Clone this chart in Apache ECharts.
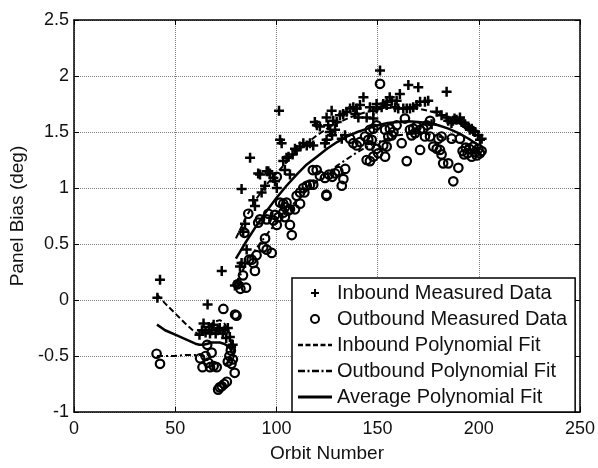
<!DOCTYPE html>
<html>
<head>
<meta charset="utf-8">
<script src="https://cdn.jsdelivr.net/npm/echarts@6/dist/echarts.min.js"></script>
<style>
html, body { margin: 0; padding: 0; background: #fff; }
#chart { width: 598px; height: 468px; }
</style>
</head>
<body>
<div id="chart"></div>
<script>
// tick values
var xTicks = [0, 50, 100, 150, 200, 250];
var yTicks = [-1, -0.5, 0, 0.5, 1, 1.5, 2, 2.5];

// measured data (orbit, bias deg)
var inboundData = [
  [41.2,0.02],[42.5,0.18],[62.0,-0.31],[63.2,-0.27],[64.0,-0.21],[65.0,-0.29],[66.0,-0.04],[66.6,-0.24],
  [67.2,-0.30],[68.0,-0.27],[69.0,-0.22],[70.0,-0.30],[71.0,-0.27],[72.0,-0.25],[73.0,0.26],[73.5,-0.30],
  [74.4,-0.27],[75.2,-0.34],[76.0,-0.25],[77.0,-0.33],[77.6,-0.42],[78.4,-0.40],
  [79.5,0.13],[81.2,0.15],[82.0,0.30],[82.8,0.33],[84.5,0.33],[82.8,0.99],[83.6,0.61],[84.5,0.68],
  [85.3,0.45],[87.0,1.27],[88.6,0.89],[89.4,0.84],[91.0,1.13],[91.9,1.12],[92.7,0.96],[94.4,1.02],
  [95.2,1.15],[96.0,1.15],[96.8,1.13],[98.5,1.09],[99.3,1.06],[100.2,1.00],[101.3,1.69],[101.8,1.43],
  [102.6,1.40],[103.4,1.24],[104.2,1.16],[105.0,1.27],[106.0,1.28],[106.7,1.12],[108.0,1.30],[109.2,1.35],
  [110.0,1.34],[111.7,1.37],[113.3,1.40],[115.0,1.38],[116.6,1.40],[118.2,1.38],[119.0,1.59],[120.0,1.56],
  [121.5,1.55],[124.0,1.40],[124.8,1.43],[124.8,1.63],[125.6,1.56],[126.5,1.50],[127.3,1.69],[127.5,1.47],
  [128.1,1.60],[129.0,1.52],[129.8,1.59],[131.4,1.65],[132.3,1.44],[133.0,1.66],[133.9,1.47],[134.7,1.68],
  [136.4,1.71],[138.0,1.72],[139.0,1.66],[139.7,1.71],[140.5,1.63],[141.3,1.74],[143.0,1.81],[144.6,1.63],
  [146.2,1.72],[147.9,1.62],[147.9,1.69],[149.5,1.71],[149.5,1.75],[151.2,2.05],[152.0,1.72],[152.8,1.75],
  [154.5,1.74],[154.5,1.77],[156.0,1.81],[157.0,1.78],[158.6,1.72],[159.4,1.78],[160.2,1.71],[161.0,1.84],
  [162.7,1.71],[164.4,1.71],[165.2,1.92],[166.0,1.71],[167.6,1.72],[169.3,1.74],[170.1,1.90],[171.0,1.77],
  [173.4,1.77],[175.0,1.78],[176.7,1.57],[179.2,1.68],[181.6,1.65],[184.1,1.86],[184.1,1.63],[184.9,1.60],
  [186.5,1.58],[187.2,1.60],[188.0,1.62],[189.0,1.61],[190.7,1.63],[191.5,1.59],[192.4,1.58],[193.2,1.57],
  [194.8,1.55],[195.6,1.52],[196.5,1.53],[197.3,1.51],[198.1,1.50],[199.8,1.47],[200.6,1.43],[201.4,1.44]
];
var outboundData = [
  [40.8,-0.48],[42.5,-0.57],[62.3,-0.52],[63.5,-0.60],[65.0,-0.50],[65.8,-0.40],[66.4,-0.56],[67.2,-0.60],
  [68.0,-0.47],[69.0,-0.59],[70.5,-0.60],[71.2,-0.80],[72.0,-0.78],[73.0,-0.77],[73.8,-0.08],[74.2,-0.75],
  [75.5,-0.73],[76.0,-0.55],[76.8,-0.50],[77.5,-0.45],[77.8,-0.57],[78.5,-0.53],[79.4,-0.65],[80.3,-0.14],
  [79.6,-0.13],
  [80.8,0.14],[82.2,0.10],[83.5,0.22],[85.0,0.11],[84.2,0.60],[86.1,0.77],[86.5,0.36],[87.8,0.36],
  [88.6,0.33],[89.4,0.26],[90.2,0.40],[91.0,0.69],[91.9,0.72],[93.5,0.47],[94.4,0.55],[95.2,0.45],
  [95.2,0.72],[96.0,0.77],[97.7,0.42],[98.5,0.71],[99.3,0.76],[100.2,0.67],[100.2,1.10],[101.0,0.74],
  [101.8,0.87],[103.4,0.78],[103.4,0.86],[104.2,0.83],[104.2,0.74],[105.0,0.87],[106.0,0.80],[106.7,0.67],
  [106.7,0.81],[107.6,0.58],[109.2,0.81],[110.0,0.93],[111.7,0.86],[111.7,0.96],[113.3,1.00],[113.8,0.96],
  [115.0,1.02],[116.6,1.03],[118.0,1.16],[118.2,1.03],[119.9,1.16],[121.5,1.11],[124.0,1.09],[124.7,0.94],
  [124.8,0.93],[126.0,1.12],[127.6,1.10],[129.0,1.13],[130.6,1.15],[132.3,1.02],[133.1,1.08],[134.0,1.17],
  [136.4,1.44],[138.0,1.40],[139.7,1.38],[141.3,1.41],[143.8,1.46],[144.6,1.25],[145.4,1.43],[146.2,1.38],
  [146.2,1.24],[146.2,1.52],[147.1,1.43],[147.9,1.53],[147.9,1.28],[149.5,1.56],[149.5,1.35],[150.3,1.31],
  [151.2,1.93],[152.8,1.38],[153.7,1.52],[153.7,1.28],[154.5,1.37],[155.3,1.46],[156.1,1.53],[157.0,1.47],
  [157.8,1.50],[159.4,1.56],[161.9,1.40],[163.5,1.62],[164.4,1.24],[166.0,1.52],[166.8,1.47],[167.6,1.53],
  [168.5,1.49],[169.3,1.55],[171.0,1.52],[171.0,1.34],[172.6,1.53],[173.4,1.46],[174.3,1.56],[175.9,1.60],
  [175.9,1.46],[177.5,1.37],[179.2,1.35],[180.0,1.44],[180.8,1.34],[181.6,1.30],[181.6,1.46],[182.4,1.22],
  [184.9,1.22],[186.6,1.44],[187.4,1.06],[189.9,1.18],[190.7,1.44],[192.0,1.33],[192.8,1.30],[193.6,1.36],
  [194.5,1.31],[195.3,1.35],[196.5,1.28],[197.3,1.37],[198.1,1.32],[199.0,1.29],[199.8,1.35],[200.6,1.31],
  [201.4,1.33]
];

// polynomial fits, two pieces each
var inFitLow = [[41,0.05],[45,-0.03],[50,-0.12],[55,-0.21],[60,-0.29],[62,-0.31],[64,-0.30],[66,-0.25],
  [68,-0.21],[70,-0.19],[72,-0.18],[74,-0.20],[76,-0.26],[78,-0.36],[79,-0.42]];
var inFitHigh = [[80,0.55],[85,0.74],[90,0.90],[95,1.03],[100,1.13],[105,1.23],[110,1.32],[115,1.40],
  [120,1.47],[125,1.53],[130,1.58],[135,1.62],[140,1.655],[145,1.68],[150,1.70],[155,1.715],[160,1.72],
  [165,1.72],[170,1.71],[175,1.69],[180,1.665],[185,1.63],[190,1.58],[195,1.52],[200,1.45]];
var outFitLow = [[41,-0.50],[45,-0.50],[50,-0.50],[55,-0.49],[60,-0.49],[62,-0.49],[64,-0.50],[66,-0.53],
  [68,-0.55],[70,-0.57],[72,-0.58],[74,-0.58],[76,-0.56],[78,-0.50],[79,-0.44]];
var outFitHigh = [[80,0.15],[85,0.32],[90,0.46],[95,0.58],[100,0.69],[105,0.79],[110,0.89],[115,0.98],
  [120,1.06],[125,1.13],[130,1.20],[135,1.26],[140,1.32],[145,1.37],[150,1.41],[155,1.44],[160,1.47],
  [165,1.48],[170,1.49],[175,1.48],[180,1.46],[185,1.44],[190,1.41],[195,1.37],[200,1.32]];
var avgFitLow = [[41,-0.22],[45,-0.27],[50,-0.31],[55,-0.35],[60,-0.39],[62,-0.40],[64,-0.40],[66,-0.39],
  [68,-0.38],[70,-0.38],[72,-0.38],[74,-0.39],[76,-0.41],[78,-0.45]];
var avgFitHigh = [[80,0.37],[85,0.52],[90,0.66],[95,0.79],[100,0.91],[105,1.02],[110,1.12],[115,1.21],
  [120,1.28],[125,1.35],[130,1.41],[135,1.46],[140,1.50],[145,1.53],[150,1.56],[155,1.58],[160,1.59],
  [165,1.595],[170,1.59],[175,1.58],[180,1.56],[185,1.53],[190,1.49],[195,1.44],[200,1.38]];

var names = ['Inbound Measured Data', 'Outbound Measured Data', 'Inbound Polynomial Fit',
             'Outbound Polynomial Fit', 'Average Polynomial Fit'];

var FONT = '"Liberation Sans", Arial, Helvetica, sans-serif';
var plusPath = 'path://M3,0H5V3H8V5H5V8H3V5H0V3H3Z';
var dashIcon = 'path://M0,0H5V2.4H0Z M7.5,0H12.5V2.4H7.5Z M15,0H20V2.4H15Z M22.5,0H27.5V2.4H22.5Z M30,0H34V2.4H30Z';
var dashDotIcon = 'path://M0,0H7V2.4H0Z M9.5,0H11.5V2.4H9.5Z M14,0H21V2.4H14Z M23.5,0H25.5V2.4H23.5Z M28,0H34V2.4H28Z';
var solidIcon = 'path://M0,0H34V2.8H0Z';

function mkX(main) {
  return {
    type: 'value', min: xTicks[0], max: xTicks[xTicks.length - 1], interval: 50,
    position: main ? 'bottom' : 'top',
    name: main ? 'Orbit Number' : '',
    nameLocation: 'middle', nameGap: 32,
    nameTextStyle: { fontSize: 19, color: '#111', fontFamily: FONT },
    axisLine: { onZero: false, lineStyle: { color: '#000', width: 1.5 } },
    axisTick: { inside: true, length: 5, lineStyle: { color: '#000', width: 1 } },
    axisLabel: { show: main, fontSize: 18, color: '#111', margin: 8, fontFamily: FONT },
    splitLine: { show: main, lineStyle: { type: 'dotted', color: '#808080', width: 1 } }
  };
}
function mkY(main) {
  return {
    type: 'value', min: yTicks[0], max: yTicks[yTicks.length - 1], interval: 0.5,
    position: main ? 'left' : 'right',
    name: main ? 'Panel Bias (deg)' : '',
    nameLocation: 'middle', nameGap: 41,
    nameTextStyle: { fontSize: 19, color: '#111', fontFamily: FONT },
    axisLine: { onZero: false, lineStyle: { color: '#000', width: 1.5 } },
    axisTick: { inside: true, length: 5, lineStyle: { color: '#000', width: 1 } },
    axisLabel: { show: main, fontSize: 18, color: '#111', margin: 5, fontFamily: FONT },
    splitLine: { show: main, lineStyle: { type: 'dotted', color: '#808080', width: 1 } }
  };
}

function fitSeries(name, data, type, width) {
  return {
    name: name, type: 'line', data: data, symbol: 'none', showSymbol: false,
    silent: true, z: 3,
    lineStyle: { color: '#000', width: width, type: type }
  };
}

var chart = echarts.init(document.getElementById('chart'), null, { renderer: 'canvas' });
var option = {
  animation: false,
  backgroundColor: '#fff',
  grid: { left: 74, top: 20, width: 506, height: 398 },
  xAxis: [mkX(true), mkX(false)],
  yAxis: [mkY(true), mkY(false)],
  legend: {
    orient: 'vertical', left: 292, top: 278,
    padding: [5, 8, 5, 6], itemGap: 6, itemWidth: 34, itemHeight: 8,
    backgroundColor: '#fff', borderColor: '#000', borderWidth: 1.5,
    selectedMode: false,
    textStyle: { fontSize: 20, color: '#111', fontFamily: FONT },
    data: [
      { name: names[0], icon: plusPath, itemStyle: { color: '#000', borderWidth: 0 } },
      { name: names[1], icon: 'circle', itemStyle: { color: '#fff', borderColor: '#000', borderWidth: 2 } },
      { name: names[2], icon: dashIcon, itemStyle: { color: '#000', borderWidth: 0 } },
      { name: names[3], icon: dashDotIcon, itemStyle: { color: '#000', borderWidth: 0 } },
      { name: names[4], icon: solidIcon, itemStyle: { color: '#000', borderWidth: 0 } }
    ]
  },
  series: [
    { name: names[0], type: 'scatter', data: inboundData, symbol: plusPath, symbolSize: 10,
      silent: true, itemStyle: { color: '#000', opacity: 1 } },
    { name: names[1], type: 'scatter', data: outboundData, symbol: 'circle', symbolSize: 8.5,
      silent: true, itemStyle: { color: 'rgba(0,0,0,0)', borderColor: '#000', borderWidth: 2.2, opacity: 1 } },
    fitSeries(names[2], inFitLow, [6, 3], 2),
    fitSeries(names[2], inFitHigh, [6, 3], 2),
    fitSeries(names[3], outFitLow, [6, 3, 2, 3], 2),
    fitSeries(names[3], outFitHigh, [6, 3, 2, 3], 2),
    fitSeries(names[4], avgFitLow, 'solid', 2.5),
    fitSeries(names[4], avgFitHigh, 'solid', 2.5)
  ]
};
chart.setOption(option);
</script>
</body>
</html>
